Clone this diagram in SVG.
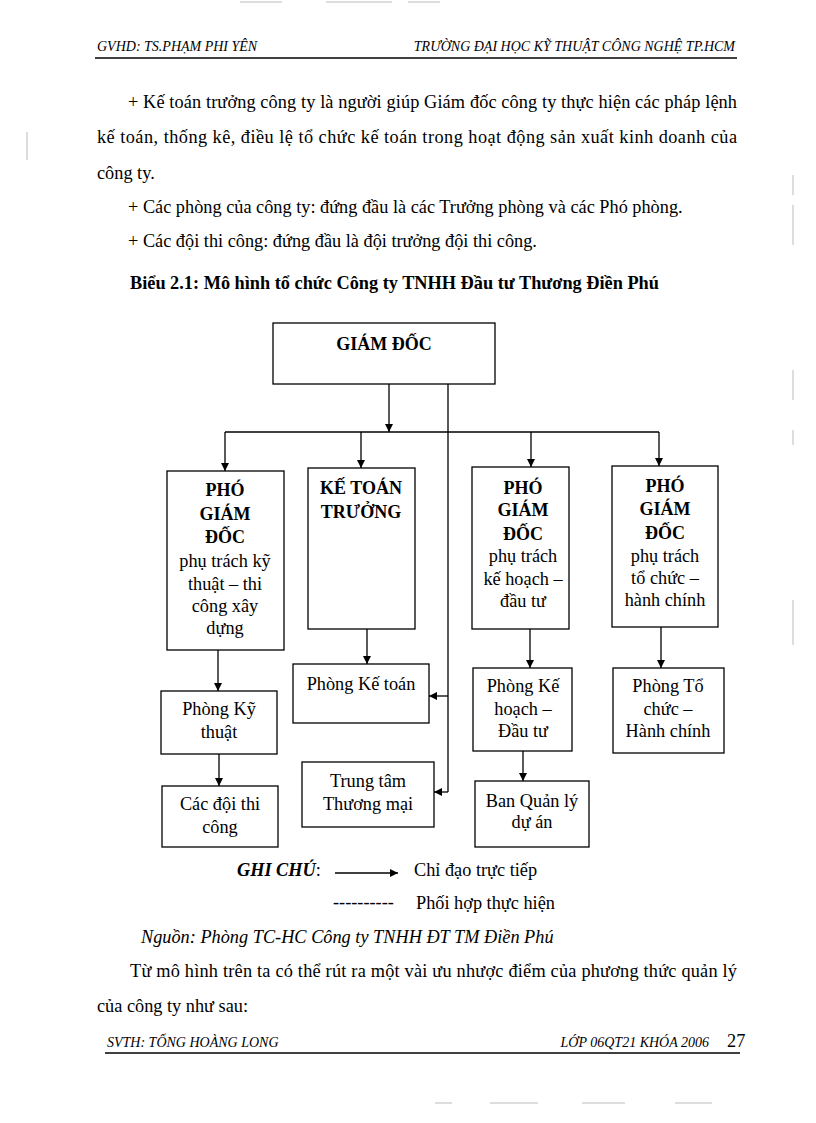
<svg xmlns="http://www.w3.org/2000/svg" width="816" height="1123" viewBox="0 0 816 1123">
<defs>
<marker id="arr" viewBox="0 0 10 10" refX="10" refY="5" markerWidth="8" markerHeight="8" markerUnits="userSpaceOnUse" orient="auto">
<path d="M0,0 L10,5 L0,10 z" fill="#000"/>
</marker>
<style>
.t{font-family:"Liberation Serif","Times New Roman",serif;font-size:18.3px;fill:#000}
.hd{font-family:"Liberation Serif","Times New Roman",serif;font-size:14px;font-style:italic;fill:#000}
.b{font-weight:bold}
.box{fill:#fff;stroke:#000;stroke-width:1.3}
.bt{font-family:"Liberation Serif","Times New Roman",serif;font-size:18px;font-weight:bold;text-anchor:middle;fill:#000}
.nt{font-family:"Liberation Serif","Times New Roman",serif;font-size:18.3px;text-anchor:middle;fill:#000}
.ln{stroke:#000;stroke-width:1.3;fill:none}
.art{stroke:#bbb;stroke-width:1}
</style>
</defs>
<rect width="816" height="1123" fill="#fff"/>

<g id="artifacts">
<line class="art" x1="240" y1="2" x2="282" y2="2"/>
<line class="art" x1="326" y1="2" x2="392" y2="2"/>
<line class="art" x1="408" y1="2" x2="440" y2="2"/>
<line class="art" x1="435" y1="1103" x2="452" y2="1103"/>
<line class="art" x1="490" y1="1103" x2="538" y2="1103"/>
<line class="art" x1="582" y1="1103" x2="625" y2="1103"/>
<line class="art" x1="675" y1="1103" x2="712" y2="1103"/>
<line class="art" x1="27" y1="132" x2="27" y2="160"/>
<line class="art" x1="793" y1="175" x2="793" y2="195"/>
<line class="art" x1="793" y1="205" x2="793" y2="245"/>
<line class="art" x1="793" y1="370" x2="793" y2="400"/>
<line class="art" x1="793" y1="430" x2="793" y2="445"/>
<line class="art" x1="793" y1="600" x2="793" y2="645"/>
</g>

<g id="header">
<text class="hd" x="97" y="51">GVHD: TS.PHẠM PHI YÊN</text>
<text class="hd" x="735" y="51" text-anchor="end">TRƯỜNG ĐẠI HỌC KỸ THUẬT CÔNG NGHỆ TP.HCM</text>
<line x1="95" y1="58" x2="737" y2="58" stroke="#000" stroke-width="1.6"/>
</g>

<g id="body">
<text class="t" x="128" y="108" textLength="609" lengthAdjust="spacing">+ Kế toán trưởng công ty là người giúp Giám đốc công ty thực hiện các pháp lệnh</text>
<text class="t" x="97" y="143" textLength="640" lengthAdjust="spacing">kế toán, thống kê, điều lệ tổ chức kế toán trong hoạt động sản xuất kinh doanh của</text>
<text class="t" x="97" y="179">công ty.</text>
<text class="t" x="128" y="213">+ Các phòng của công ty: đứng đầu là các Trưởng phòng và các Phó phòng.</text>
<text class="t" x="128" y="247">+ Các đội thi công: đứng đầu là đội trưởng đội thi công.</text>
<text class="t b" x="130" y="289" font-size="18.1">Biểu 2.1: Mô hình tổ chức Công ty TNHH Đầu tư Thương Điền Phú</text>
</g>

<g id="connectors">
<line class="ln" x1="389" y1="384" x2="389" y2="432" marker-end="url(#arr)"/>
<line class="ln" x1="225" y1="432" x2="659" y2="432"/>
<line class="ln" x1="225" y1="432" x2="225" y2="471" marker-end="url(#arr)"/>
<line class="ln" x1="361" y1="432" x2="361" y2="468" marker-end="url(#arr)"/>
<line class="ln" x1="531" y1="432" x2="531" y2="467" marker-end="url(#arr)"/>
<line class="ln" x1="659" y1="432" x2="659" y2="466" marker-end="url(#arr)"/>
<line class="ln" x1="448" y1="384" x2="448" y2="792"/>
<line class="ln" x1="448" y1="696" x2="429" y2="696" marker-end="url(#arr)"/>
<line class="ln" x1="448" y1="792" x2="434" y2="792" marker-end="url(#arr)"/>
<line class="ln" x1="218" y1="650" x2="218" y2="691" marker-end="url(#arr)"/>
<line class="ln" x1="219" y1="754" x2="219" y2="786" marker-end="url(#arr)"/>
<line class="ln" x1="367" y1="629" x2="367" y2="664" marker-end="url(#arr)"/>
<line class="ln" x1="530" y1="629" x2="530" y2="668" marker-end="url(#arr)"/>
<line class="ln" x1="523" y1="751" x2="523" y2="781" marker-end="url(#arr)"/>
<line class="ln" x1="661" y1="627" x2="661" y2="668" marker-end="url(#arr)"/>
</g>

<g id="giam-doc">
<rect class="box" x="273" y="323" width="222" height="61"/>
<text class="bt" x="384" y="350">GIÁM ĐỐC</text>
</g>

<g id="pgd-ky-thuat">
<rect class="box" x="167" y="471" width="117" height="179"/>
<text class="bt" x="225" y="496">PHÓ</text>
<text class="bt" x="225" y="520">GIÁM</text>
<text class="bt" x="225" y="543">ĐỐC</text>
<text class="nt" x="225" y="567">phụ trách kỹ</text>
<text class="nt" x="225" y="590">thuật – thi</text>
<text class="nt" x="225" y="612">công xây</text>
<text class="nt" x="225" y="634">dựng</text>
</g>

<g id="ke-toan-truong">
<rect class="box" x="308" y="468" width="107" height="161"/>
<text class="bt" x="361" y="494">KẾ TOÁN</text>
<text class="bt" x="361" y="518">TRƯỞNG</text>
</g>

<g id="pgd-ke-hoach">
<rect class="box" x="472" y="467" width="97" height="162"/>
<text class="bt" x="523" y="494">PHÓ</text>
<text class="bt" x="523" y="516">GIÁM</text>
<text class="bt" x="523" y="540">ĐỐC</text>
<text class="nt" x="523" y="562">phụ trách</text>
<text class="nt" x="523" y="585">kế hoạch –</text>
<text class="nt" x="523" y="607">đầu tư</text>
</g>

<g id="pgd-to-chuc">
<rect class="box" x="612" y="466" width="106" height="161"/>
<text class="bt" x="665" y="492">PHÓ</text>
<text class="bt" x="665" y="515">GIÁM</text>
<text class="bt" x="665" y="539">ĐỐC</text>
<text class="nt" x="665" y="562">phụ trách</text>
<text class="nt" x="665" y="584">tổ chức –</text>
<text class="nt" x="665" y="606">hành chính</text>
</g>

<g id="phong-ky-thuat">
<rect class="box" x="161" y="691" width="116" height="63"/>
<text class="nt" x="219" y="715">Phòng Kỹ</text>
<text class="nt" x="219" y="738">thuật</text>
</g>

<g id="cac-doi-thi-cong">
<rect class="box" x="162" y="786" width="116" height="61"/>
<text class="nt" x="220" y="810">Các đội thi</text>
<text class="nt" x="220" y="833">công</text>
</g>

<g id="phong-ke-toan">
<rect class="box" x="293" y="664" width="136" height="59"/>
<text class="nt" x="361" y="690">Phòng Kế toán</text>
</g>

<g id="trung-tam-thuong-mai">
<rect class="box" x="302" y="762" width="132" height="65"/>
<text class="nt" x="368" y="787">Trung tâm</text>
<text class="nt" x="368" y="810">Thương mại</text>
</g>

<g id="phong-ke-hoach">
<rect class="box" x="473" y="668" width="99" height="83"/>
<text class="nt" x="523" y="692">Phòng Kế</text>
<text class="nt" x="523" y="715">hoạch –</text>
<text class="nt" x="523" y="737">Đầu tư</text>
</g>

<g id="ban-quan-ly">
<rect class="box" x="475" y="781" width="114" height="66"/>
<text class="nt" x="532" y="807">Ban Quản lý</text>
<text class="nt" x="532" y="828">dự án</text>
</g>

<g id="phong-to-chuc">
<rect class="box" x="613" y="668" width="111" height="85"/>
<text class="nt" x="668" y="692">Phòng Tổ</text>
<text class="nt" x="668" y="715">chức –</text>
<text class="nt" x="668" y="737">Hành chính</text>
</g>

<g id="legend">
<text class="t b" x="237" y="876" font-style="italic">GHI CHÚ<tspan font-weight="normal" font-style="normal">:</tspan></text>
<line class="ln" x1="335" y1="873" x2="398" y2="873" marker-end="url(#arr)"/>
<text class="t" x="414" y="876">Chỉ đạo trực tiếp</text>
<text class="t" x="333" y="908">----------</text>
<text class="t" x="416" y="909">Phối hợp thực hiện</text>
</g>

<g id="after">
<text class="t" x="141" y="943" font-style="italic">Nguồn: Phòng TC-HC Công ty TNHH ĐT TM Điền Phú</text>
<text class="t" x="130" y="977" textLength="607" lengthAdjust="spacing">Từ mô hình trên ta có thể rút ra một vài ưu nhược điểm của phương thức quản lý</text>
<text class="t" x="97" y="1012">của công ty như sau:</text>
</g>

<g id="footer">
<text class="hd" x="107" y="1047">SVTH: TỐNG HOÀNG LONG</text>
<text class="hd" x="709" y="1047" text-anchor="end">LỚP 06QT21 KHÓA 2006</text>
<text class="t" x="727" y="1047" font-size="21">27</text>
<line x1="105" y1="1053" x2="740" y2="1053" stroke="#000" stroke-width="1.6"/>
</g>
</svg>
